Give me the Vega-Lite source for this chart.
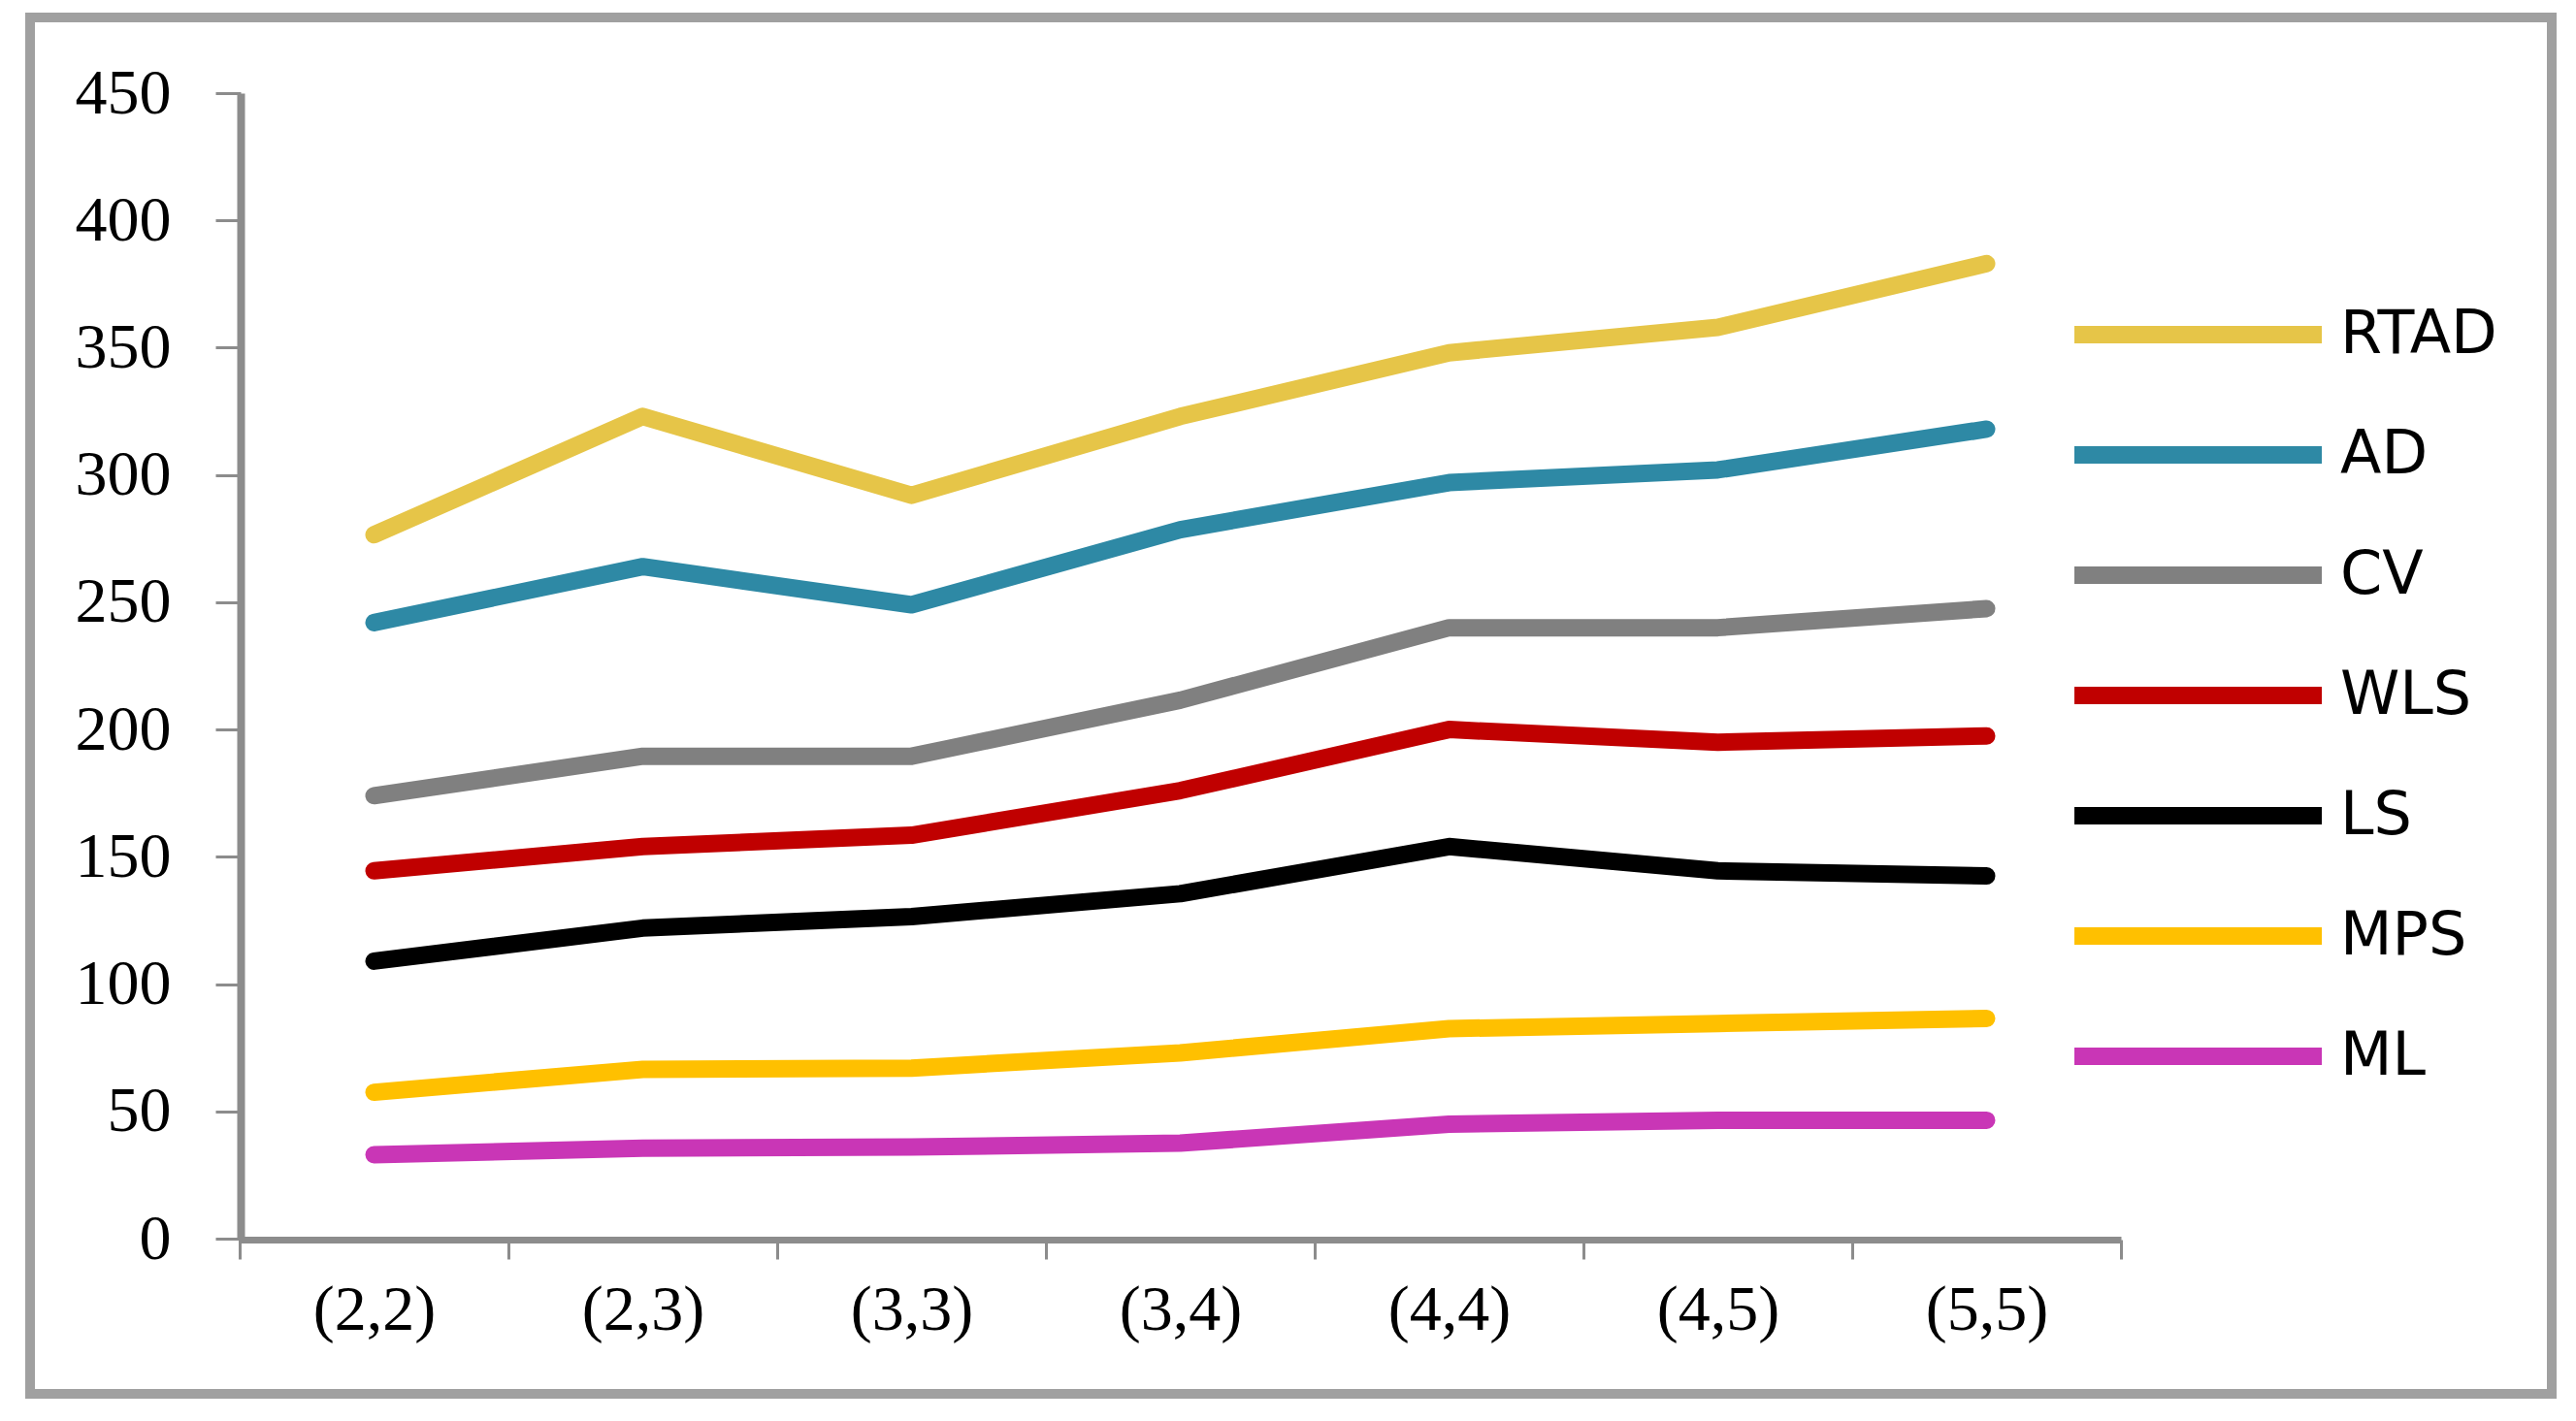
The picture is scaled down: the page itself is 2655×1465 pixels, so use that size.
{
  "$schema": "https://vega.github.io/schema/vega-lite/v6.json",
  "autosize": {"type": "none"},
  "width": 2599,
  "height": 1419,
  "padding": {"left": 31, "top": 18, "right": 25, "bottom": 28},
  "background": "white",
  "config": {
    "view": {"stroke": "#a0a0a0", "strokeWidth": 10, "fill": "white"}
  },
  "data": {
    "values": [
      {"pair": "(2,2)", "method": "RTAD", "value": 276.5},
      {"pair": "(2,3)", "method": "RTAD", "value": 323},
      {"pair": "(3,3)", "method": "RTAD", "value": 292},
      {"pair": "(3,4)", "method": "RTAD", "value": 323},
      {"pair": "(4,4)", "method": "RTAD", "value": 348},
      {"pair": "(4,5)", "method": "RTAD", "value": 358},
      {"pair": "(5,5)", "method": "RTAD", "value": 383},
      {"pair": "(2,2)", "method": "AD", "value": 242},
      {"pair": "(2,3)", "method": "AD", "value": 264},
      {"pair": "(3,3)", "method": "AD", "value": 249},
      {"pair": "(3,4)", "method": "AD", "value": 278.5},
      {"pair": "(4,4)", "method": "AD", "value": 297},
      {"pair": "(4,5)", "method": "AD", "value": 302},
      {"pair": "(5,5)", "method": "AD", "value": 318},
      {"pair": "(2,2)", "method": "CV", "value": 174},
      {"pair": "(2,3)", "method": "CV", "value": 189.5},
      {"pair": "(3,3)", "method": "CV", "value": 189.5},
      {"pair": "(3,4)", "method": "CV", "value": 211.5},
      {"pair": "(4,4)", "method": "CV", "value": 240},
      {"pair": "(4,5)", "method": "CV", "value": 240},
      {"pair": "(5,5)", "method": "CV", "value": 247.5},
      {"pair": "(2,2)", "method": "WLS", "value": 144.5},
      {"pair": "(2,3)", "method": "WLS", "value": 154},
      {"pair": "(3,3)", "method": "WLS", "value": 158.5},
      {"pair": "(3,4)", "method": "WLS", "value": 176},
      {"pair": "(4,4)", "method": "WLS", "value": 200},
      {"pair": "(4,5)", "method": "WLS", "value": 195},
      {"pair": "(5,5)", "method": "WLS", "value": 197.5},
      {"pair": "(2,2)", "method": "LS", "value": 109},
      {"pair": "(2,3)", "method": "LS", "value": 122},
      {"pair": "(3,3)", "method": "LS", "value": 126.5},
      {"pair": "(3,4)", "method": "LS", "value": 135.5},
      {"pair": "(4,4)", "method": "LS", "value": 154},
      {"pair": "(4,5)", "method": "LS", "value": 144.5},
      {"pair": "(5,5)", "method": "LS", "value": 142.5},
      {"pair": "(2,2)", "method": "MPS", "value": 57.5},
      {"pair": "(2,3)", "method": "MPS", "value": 66.5},
      {"pair": "(3,3)", "method": "MPS", "value": 67},
      {"pair": "(3,4)", "method": "MPS", "value": 73},
      {"pair": "(4,4)", "method": "MPS", "value": 82.5},
      {"pair": "(4,5)", "method": "MPS", "value": 84.5},
      {"pair": "(5,5)", "method": "MPS", "value": 86.5},
      {"pair": "(2,2)", "method": "ML", "value": 33},
      {"pair": "(2,3)", "method": "ML", "value": 35.5},
      {"pair": "(3,3)", "method": "ML", "value": 36},
      {"pair": "(3,4)", "method": "ML", "value": 37.5},
      {"pair": "(4,4)", "method": "ML", "value": 45},
      {"pair": "(4,5)", "method": "ML", "value": 46.5},
      {"pair": "(5,5)", "method": "ML", "value": 46.5}
    ]
  },
  "mark": {"type": "line", "strokeWidth": 18, "strokeCap": "round", "strokeJoin": "round"},
  "encoding": {
    "x": {
      "field": "pair",
      "type": "ordinal",
      "sort": ["(2,2)", "(2,3)", "(3,3)", "(3,4)", "(4,4)", "(4,5)", "(5,5)"],
      "scale": {"type": "band", "range": [216, 2155], "paddingInner": 0, "paddingOuter": 0},
      "axis": {
        "title": null,
        "offset": -159,
        "tickBand": "extent",
        "labelAngle": 0,
        "labelFont": "Liberation Serif",
        "labelFontSize": 66,
        "labelColor": "#000000",
        "labelPadding": 20,
        "tickSize": 20,
        "tickWidth": 3,
        "tickColor": "#8c8c8c",
        "domainColor": "#8c8c8c",
        "domainWidth": 7
      }
    },
    "y": {
      "field": "value",
      "type": "quantitative",
      "scale": {"domain": [0, 450], "range": [1259, 78], "nice": false, "zero": true},
      "axis": {
        "title": null,
        "offset": -217,
        "values": [0, 50, 100, 150, 200, 250, 300, 350, 400, 450],
        "grid": false,
        "labelFont": "Liberation Serif",
        "labelFontSize": 66,
        "labelColor": "#000000",
        "labelPadding": 46,
        "tickSize": 26,
        "tickWidth": 3,
        "tickColor": "#8c8c8c",
        "domainColor": "#8c8c8c",
        "domainWidth": 8
      }
    },
    "color": {
      "field": "method",
      "type": "nominal",
      "scale": {
        "domain": ["RTAD", "AD", "CV", "WLS", "LS", "MPS", "ML"],
        "range": ["#E6C548", "#2E89A5", "#808080", "#C00000", "#000000", "#FFC000", "#C936B6"]
      },
      "legend": {
        "title": null,
        "orient": "none",
        "legendX": 2098,
        "legendY": 296,
        "symbolType": "stroke",
        "symbolSize": 65025,
        "symbolStrokeWidth": 18,
        "clipHeight": 62,
        "rowPadding": 62,
        "labelOffset": 10,
        "labelFont": "DejaVu Sans",
        "labelFontSize": 62,
        "labelColor": "#000000",
        "labelLimit": 400
      }
    }
  }
}
